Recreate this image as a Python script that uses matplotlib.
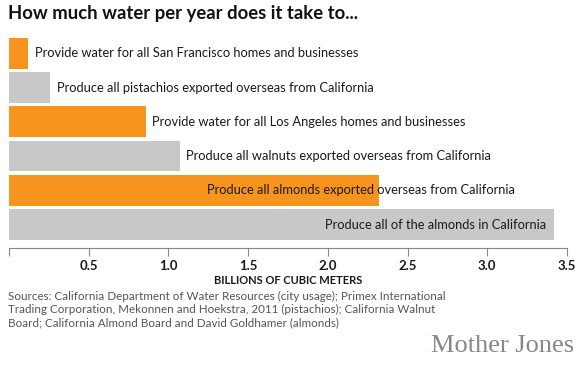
import matplotlib.pyplot as plt

labels = ['Provide water for all San Francisco homes and businesses',
          'Produce all pistachios exported overseas from California',
          'Provide water for all Los Angeles homes and businesses',
          'Produce all walnuts exported overseas from California',
          'Produce all almonds exported overseas from California',
          'Produce all of the almonds in California']
values = [0.12, 0.26, 0.86, 1.07, 2.32, 3.42]
kinds = ['city', 'crop', 'city', 'crop', 'city', 'crop']
ticks = [0, 0.5, 1.0, 1.5, 2.0, 2.5, 3.0, 3.5]
tick_labels = ['', '0.5', '1.0', '1.5', '2.0', '2.5', '3.0', '3.5']

orange = '#f7941d'
grey = '#c8c8c8'
plt.rcParams['font.family'] = ['Lato', 'DejaVu Sans']

fig = plt.figure(figsize=(5.79, 3.67), dpi=100)
ax = fig.add_axes([9/579, 1 - 248/367, 558/579, 210/367])

y = list(range(len(values)))
cols = [orange if k == 'city' else grey for k in kinds]
ax.barh(y, values, height=0.9, color=cols)
ax.set_ylim(5.685, -0.45)
ax.set_xlim(0, 3.5)

# labels sit right of short bars, inside the long ones
for i, (v, lab) in enumerate(zip(values, labels)):
    if i == 4:
        ax.text(1.24, i, lab, va='center', ha='left', fontsize=9.3, color='#1a1a1a')
    elif i == 5:
        ax.text(v - 0.05, i, lab, va='center', ha='right', fontsize=9.3, color='#1a1a1a')
    else:
        ax.text(v + 0.04, i, lab, va='center', ha='left', fontsize=9.3, color='#1a1a1a')

for s in ['top', 'right', 'left']:
    ax.spines[s].set_visible(False)
ax.spines['bottom'].set_color('#888888')
ax.spines['bottom'].set_linewidth(0.8)
ax.set_yticks([])
ax.set_xticks(ticks)
ax.set_xticklabels(tick_labels, fontweight='bold', fontsize=9.5, color='#1a1a1a')
ax.tick_params(axis='x', direction='out', length=6, width=0.8, color='#888888', pad=3)
ax.set_xlabel('BILLIONS OF CUBIC METERS', fontweight='bold', fontsize=8, color='#1a1a1a', labelpad=2)

fig.text(8/579, 1 - 13/367, 'How much water per year does it take to...', fontsize=13.3,
         fontweight='bold', va='center', ha='left', color='#111111')
fig.text(8/579, 1 - 291/367,
         'Sources: California Department of Water Resources (city usage); Primex International\n'
         'Trading Corporation, Mekonnen and Hoekstra, 2011 (pistachios); California Walnut\n'
         'Board; California Almond Board and David Goldhamer (almonds)',
         fontsize=8.4, va='top', ha='left', color='#555555', linespacing=1.22)
fig.text(574/579, 1 - 346/367, 'Mother Jones', fontsize=19, family='Liberation Serif',
         va='center', ha='right', color='#888888')

fig.savefig('out.png', dpi=100)
